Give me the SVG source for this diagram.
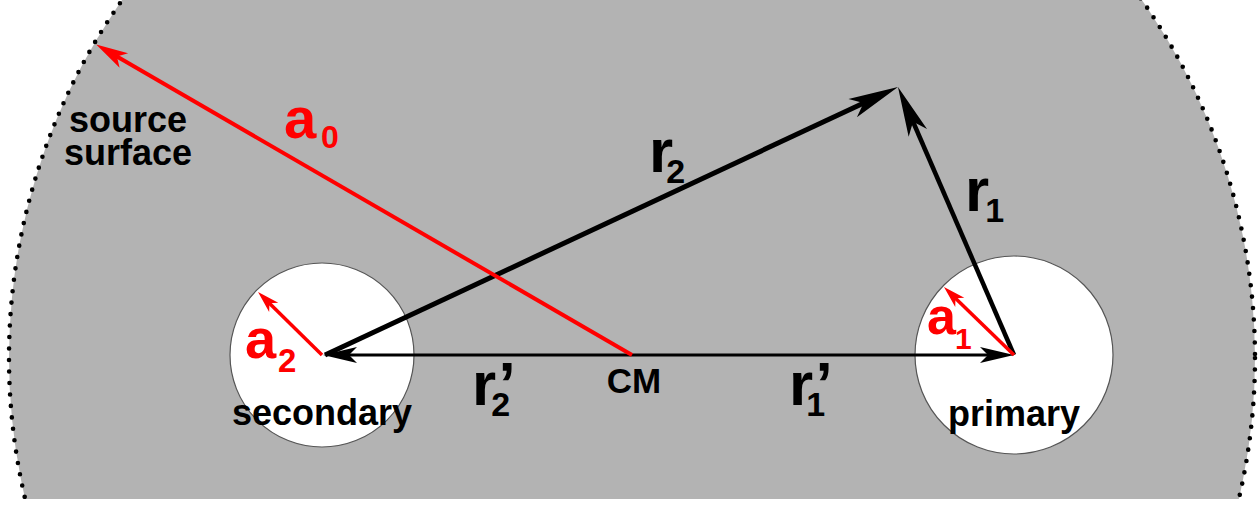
<svg xmlns="http://www.w3.org/2000/svg" width="1260" height="506" viewBox="0 0 1260 506">
<style>
.lbl{font-family:"Liberation Sans",Arial,Helvetica,sans-serif;font-weight:bold;fill:#000}
.red{fill:#ff0000}
.big{font-size:62px}
.sub{font-size:34px}
.name{font-size:36px}
.blk{stroke:#000;fill:none}
.rd{stroke:#ff0000;fill:none}
.star{fill:#fff;stroke:#555;stroke-width:1.2}
</style>
<defs>
<clipPath id="clipTop"><rect x="0" y="0" width="1260" height="499"/></clipPath>
<marker id="hBig" markerUnits="userSpaceOnUse" orient="auto" markerWidth="80" markerHeight="40" refX="0" refY="0" viewBox="-30 -20 80 40" overflow="visible">
<path d="M30,0 L-20,-10 L-8,0 L-20,10 Z" fill="#000"/>
</marker>
<marker id="hMed" markerUnits="userSpaceOnUse" orient="auto" markerWidth="60" markerHeight="30" refX="0" refY="0" viewBox="-20 -15 60 30" overflow="visible">
<path d="M20,0 L-14,-8 L-6,0 L-14,8 Z" fill="#000"/>
</marker>
<marker id="hRed" markerUnits="userSpaceOnUse" orient="auto" markerWidth="60" markerHeight="30" refX="0" refY="0" viewBox="-20 -15 60 30" overflow="visible">
<path d="M19,0 L-13,-8.5 L-5,0 L-13,8.5 Z" fill="#ff0000"/>
</marker>
<marker id="hRedS" markerUnits="userSpaceOnUse" orient="auto" markerWidth="40" markerHeight="20" refX="0" refY="0" viewBox="-15 -10 40 20" overflow="visible">
<path d="M12,0 L-10,-6.5 L-4,0 L-10,6.5 Z" fill="#ff0000"/>
</marker>
</defs>

<g id="source-surface" clip-path="url(#clipTop)">
<circle cx="632" cy="358" r="623" fill="#b3b3b3"/>
<circle cx="632" cy="358" r="623" fill="none" stroke="#000" stroke-width="4.6" stroke-linecap="round" stroke-dasharray="0 11.5"/>
</g>
<text class="lbl name" x="128" y="132" text-anchor="middle">source</text>
<text class="lbl name" x="128" y="165" text-anchor="middle">surface</text>

<g id="secondary">
<circle class="star" cx="322" cy="355" r="92"/>
<text class="lbl name" x="322" y="425" text-anchor="middle">secondary</text>
</g>
<g id="primary">
<circle class="star" cx="1014" cy="355" r="99"/>
<text class="lbl name" x="1014" y="426" text-anchor="middle">primary</text>
</g>
<g id="cm">
<text class="lbl" font-size="35" x="634" y="393" text-anchor="middle">CM</text>
</g>

<g id="connectors">
<line class="blk" x1="632" y1="355" x2="343" y2="355" stroke-width="3" marker-end="url(#hMed)"/>
<line class="blk" x1="632" y1="355" x2="994" y2="355" stroke-width="3" marker-end="url(#hMed)"/>
<line class="blk" x1="325" y1="355" x2="870.8" y2="99.7" stroke-width="5" marker-end="url(#hBig)"/>
<line class="blk" x1="1014" y1="355" x2="909.9" y2="114.5" stroke-width="4.5" marker-end="url(#hBig)"/>
<line class="rd" x1="632" y1="355" x2="112.6" y2="54" stroke-width="4" marker-end="url(#hRed)"/>
<line class="rd" x1="322" y1="355" x2="266.6" y2="300.4" stroke-width="3.5" marker-end="url(#hRedS)"/>
<line class="rd" x1="1014" y1="355" x2="952.6" y2="295.4" stroke-width="3.5" marker-end="url(#hRedS)"/>
</g>

<g id="labels">
<text class="lbl red" font-size="58" x="284" y="138">a<tspan font-size="32" dx="4.8" dy="10">0</tspan></text>
<text class="lbl big" x="649" y="172">r<tspan class="sub" dx="-7" dy="11">2</tspan></text>
<text class="lbl big" x="965" y="211">r<tspan class="sub" dx="-4" dy="11">1</tspan></text>
<text class="lbl big" x="472" y="405">r’<tspan class="sub" dx="-24.3" dy="11">2</tspan></text>
<text class="lbl big" x="789" y="405">r’<tspan class="sub" dx="-26.3" dy="11">1</tspan></text>
<text class="lbl red" font-size="52" x="927" y="334">a<tspan font-size="30" dx="-0.9" dy="15">1</tspan></text>
<text class="lbl red" font-size="56" x="245" y="358">a<tspan font-size="33" dx="1.9" dy="14">2</tspan></text>
</g>
</svg>
